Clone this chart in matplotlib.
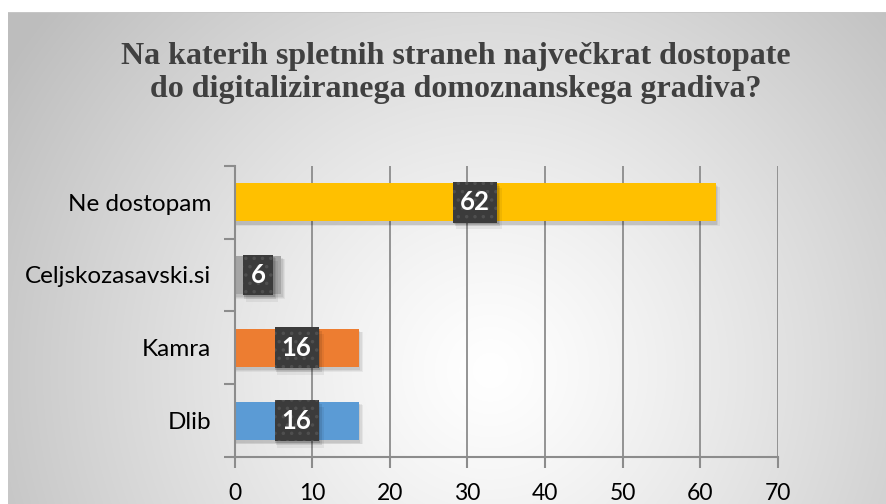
import numpy as np
import matplotlib.pyplot as plt
from matplotlib.patches import Rectangle

categories = ['Dlib', 'Kamra', 'Celjskozasavski.si', 'Ne dostopam']
values = [16, 16, 6, 62]
colors = ['#5B9BD5', '#ED7D31', '#A5A5A5', '#FFC000']
xticks = [0, 10, 20, 30, 40, 50, 60, 70]
title = 'Na katerih spletnih straneh največkrat dostopate\ndo digitaliziranega domoznanskega gradiva?'

W, H = 886, 504
fig = plt.figure(figsize=(W / 100, H / 100), dpi=100)

# background: white margin + grey-to-white gradient chart area
bg = fig.add_axes([0, 0, 1, 1], zorder=-10)
yy, xx = np.mgrid[0:H, 0:W]
t = np.sqrt(((xx - 490) / 520.0) ** 2 + ((yy - 370) / 520.0) ** 2)
shade = 1.0 - 0.23 * np.clip(t, 0, 1.1) ** 1.2
img = np.dstack([shade] * 3)
img[:12, :, :] = 1.0
img[:, :8, :] = 1.0
img[12, 8:, :] = 0.78
bg.imshow(img, extent=(0, W, H, 0), aspect='auto', interpolation='bilinear')
bg.set_xlim(0, W)
bg.set_ylim(H, 0)
bg.axis('off')

ax = fig.add_axes([234.7 / W, 1 - 457 / H, (777.7 - 234.7) / W, (457 - 165.7) / H])
ax.patch.set_alpha(0)
ypos = np.arange(len(categories))
bh = 0.52

# soft shadows under bars
for y, v in zip(ypos, values):
    for k, a in [(0.9, 0.05), (0.6, 0.06), (0.3, 0.07)]:
        ax.add_patch(Rectangle((0, y - bh / 2 - 0.03 * k - 0.04), v + 0.6 * k, bh + 0.02,
                               facecolor='black', alpha=a, lw=0, zorder=1))
ax.barh(ypos, values, height=bh, color=colors, zorder=2)

# data labels in dark dotted boxes
plt.rcParams['hatch.color'] = '#4f4f4f'
plt.rcParams['hatch.linewidth'] = 1.3
for y, v in zip(ypos, values):
    bw = 5.7 if v >= 10 else 3.9
    bhh = 0.56
    for k, a in [(1.0, 0.06), (0.6, 0.09), (0.3, 0.12)]:
        ax.add_patch(Rectangle((v / 2 - bw / 2 + 0.35 * k, y - bhh / 2 - 0.09 * k), bw + 0.3 * k, bhh,
                               facecolor='black', alpha=a, lw=0, zorder=3))
    ax.add_patch(Rectangle((v / 2 - bw / 2, y - bhh / 2), bw, bhh, facecolor='#3b3b3b',
                           edgecolor='#4f4f4f', hatch='..', lw=0, zorder=4))
    ax.text(v / 2, y, str(v), ha='center', va='center', color='white',
            fontsize=18.5, fontweight='bold', family='Lato', zorder=5)

ax.set_xlim(0, 70)
ax.set_ylim(-0.5, len(categories) - 0.5)
ax.set_xticks(xticks)
ax.set_xticklabels([str(x) for x in xticks], family='Lato', fontsize=16.5)
ax.set_yticks(np.arange(-0.5, len(categories), 1.0))
ax.set_yticks(ypos, minor=True)
ax.set_yticklabels([], minor=False)
ax.set_yticklabels(categories, minor=True, family='Lato', fontsize=17.5)
ax.tick_params(axis='y', which='minor', length=0, pad=17)
ax.tick_params(axis='y', which='major', length=8, color='#8c8c8c', width=1.5)
ax.tick_params(axis='x', length=8, color='#8c8c8c', width=1.5, pad=11)
ax.grid(axis='x', color='#8c8c8c', lw=1.3, zorder=0)
ax.set_axisbelow(True)
for s in ['top', 'right']:
    ax.spines[s].set_visible(False)
for s in ['left', 'bottom']:
    ax.spines[s].set_color('#8c8c8c')
    ax.spines[s].set_linewidth(1.5)

fig.text(456 / W, 1 - 73 / H, title, ha='center', va='center', fontsize=23,
         fontweight='bold', family='Liberation Serif', color='#404040', linespacing=1.2)

fig.savefig('out.png', dpi=100)
